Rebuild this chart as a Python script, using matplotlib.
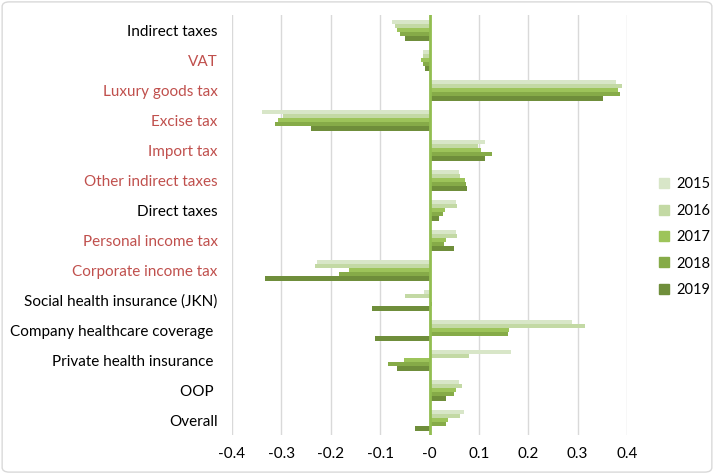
import numpy as np
import matplotlib
matplotlib.use("Agg")
import matplotlib.pyplot as plt
from matplotlib.patches import FancyBboxPatch
from matplotlib.lines import Line2D

plt.rcParams['font.family'] = ['Lato', 'DejaVu Sans']
plt.rcParams['axes.unicode_minus'] = False

categories = ["Indirect taxes", "VAT", "Luxury goods tax", "Excise tax", "Import tax",
              "Other indirect taxes", "Direct taxes", "Personal income tax",
              "Corporate income tax", "Social health insurance (JKN)",
              "Company healthcare coverage ", "Private health insurance ", "OOP ", "Overall"]
red_labels = ["VAT", "Luxury goods tax", "Excise tax", "Import tax",
              "Other indirect taxes", "Personal income tax", "Corporate income tax"]
years = ["2015", "2016", "2017", "2018", "2019"]

# values per category, one list per year
v2015 = [-0.076, -0.014, 0.378, -0.340, 0.113, 0.060, 0.053, 0.053, -0.227, -0.012, 0.288, 0.166, 0.059, 0.070]
v2016 = [-0.070, -0.013, 0.390, -0.297, 0.098, 0.061, 0.056, 0.056, -0.232, -0.050, 0.315, 0.080, 0.066, 0.062]
v2017 = [-0.066, -0.018, 0.382, -0.306, 0.104, 0.071, 0.032, 0.034, -0.164, 0.000, 0.161, -0.051, 0.054, 0.037]
v2018 = [-0.060, -0.014, 0.385, -0.312, 0.127, 0.073, 0.027, 0.029, -0.183, 0.005, 0.159, -0.085, 0.049, 0.034]
v2019 = [-0.050, -0.009, 0.352, -0.240, 0.113, 0.075, 0.019, 0.049, -0.334, -0.117, -0.110, -0.066, 0.034, -0.030]
series = [v2015, v2016, v2017, v2018, v2019]

colors = ["#d8e6c8", "#c3d9a4", "#9dc45a", "#86ab48", "#6f8e3b"]

fig = plt.figure(figsize=(7.14, 4.74), dpi=100)
ax = fig.add_axes([232 / 714, 39 / 474, 395 / 714, 420 / 474])

n = len(categories)
y = np.arange(n)
bar_h = 0.14
for i, vals in enumerate(series):
    ax.barh(y - 0.28 + i * bar_h, vals, height=bar_h, color=colors[i], zorder=3)

ax.set_xlim(-0.4, 0.4)
ax.set_ylim(n - 0.5, -0.5)
ticks = np.round(np.arange(-0.4, 0.41, 0.1), 1)
ax.set_xticks(ticks)
ax.set_xticklabels([f"{t:g}" for t in ticks])
ax.grid(axis="x", color="#d9d9d9", linewidth=1, zorder=0)
ax.axvline(0, color="#92be50", linewidth=2, zorder=4)
for s in ax.spines.values():
    s.set_visible(False)
ax.tick_params(axis="both", length=0, labelsize=11, colors="black")
ax.tick_params(axis="y", pad=10.4)
ax.tick_params(axis="x", pad=9)
ax.set_yticks(y)
ax.set_yticklabels(categories)
for lab in ax.get_yticklabels():
    if lab.get_text().strip() in red_labels:
        lab.set_color("#c0504d")

handles = [Line2D([], [], linestyle="none", marker="s", markersize=7, color=c) for c in colors]
ax.legend(handles, years, loc="center left", bbox_to_anchor=(1.05, 0.471), frameon=False,
          fontsize=10.5, handlelength=0.6, handletextpad=0.5, labelspacing=0.85)

border = FancyBboxPatch((0.003, 0.004), 0.994, 0.992, boxstyle="round,pad=0,rounding_size=0.01",
                        transform=fig.transFigure, facecolor="none", edgecolor="#d9d9d9", linewidth=1)
fig.patches.append(border)

fig.savefig("out.png", dpi=100)
